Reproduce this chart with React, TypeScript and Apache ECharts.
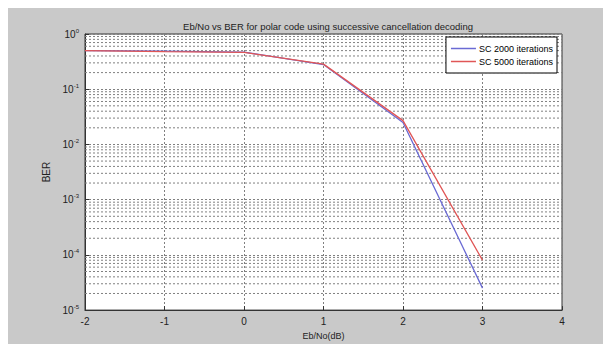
import React, { useEffect, useRef } from 'react';
import * as echarts from 'echarts';

const ebNo = [-2, -1, 0, 1, 2, 3];
const ber2000 = [0.5, 0.49, 0.47, 0.28, 0.025, 2.5e-5];
const ber5000 = [0.5, 0.48, 0.465, 0.285, 0.027, 8e-5];
const decades = [1e-5, 1e-4, 1e-3, 1e-2, 1e-1];
const minorMultipliers = [2, 3, 4, 5, 6, 7, 8, 9];
const seriesNames = ['SC 2000 iterations', 'SC 5000 iterations'];
const titleText = 'Eb/No vs BER for polar code using successive cancellation decoding';

const FONT = "'Liberation Sans Narrow', 'Liberation Sans', Arial, sans-serif";
const GRID_COLOR = '#808080';

export default function App() {
  const ref = useRef<HTMLDivElement>(null);
  useEffect(() => {
    if (!ref.current) return;
    const chart = echarts.init(ref.current, null, { renderer: 'svg' });
    const minorValues = decades.flatMap((d) => minorMultipliers.map((m) => m * d));
    chart.setOption({
      animation: false,
      backgroundColor: '#fff',
      graphic: [
        { type: 'rect', z: -10, silent: true, shape: { x: 8, y: 8, width: 595, height: 336 }, style: { fill: '#c9c9c9' } },
      ],
      title: {
        text: titleText,
        left: 323,
        textAlign: 'center',
        top: 16,
        textStyle: { fontSize: 9.5, fontWeight: 'normal', color: '#222', fontFamily: FONT },
      },
      legend: {
        orient: 'vertical',
        right: 46,
        top: 37,
        backgroundColor: '#fff',
        borderColor: '#000',
        borderWidth: 1,
        borderRadius: 0,
        padding: [7, 4, 7, 5],
        itemGap: 4,
        itemWidth: 25,
        itemHeight: 1.5,
        icon: 'rect',
        textStyle: { fontSize: 9, color: '#000', fontFamily: FONT, padding: [0, 0, 0, -2] },
        data: seriesNames,
      },
      grid: {
        left: 85,
        right: 41,
        top: 34,
        bottom: 32,
        show: true,
        backgroundColor: '#fff',
        borderColor: '#333',
        borderWidth: 1,
      },
      xAxis: {
        type: 'value',
        min: -2,
        max: 4,
        interval: 1,
        name: 'Eb/No(dB)',
        nameLocation: 'middle',
        nameGap: 20,
        nameTextStyle: { fontSize: 9, color: '#222', fontFamily: FONT },
        axisLine: { show: true, onZero: false, lineStyle: { color: '#333' } },
        axisTick: { show: true, inside: true, length: 4, lineStyle: { color: '#333' } },
        axisLabel: { fontSize: 10, color: '#222', margin: 6, fontFamily: FONT },
        splitLine: { show: true, lineStyle: { color: GRID_COLOR, type: [2, 2], width: 1 } },
      },
      yAxis: {
        type: 'log',
        logBase: 10,
        min: 1e-5,
        max: 1,
        interval: 1,
        name: 'BER',
        nameLocation: 'middle',
        nameGap: 25,
        nameTextStyle: { fontSize: 10, color: '#222', fontFamily: FONT },
        axisLine: { show: true, onZero: false, lineStyle: { color: '#333' } },
        axisTick: { show: true, inside: true, length: 4, lineStyle: { color: '#333' } },
        axisLabel: {
          margin: 6,
          formatter: (v: number) => `{b|10}{s|${Math.round(Math.log10(v))}}`,
          rich: {
            b: { fontSize: 10, color: '#222', fontFamily: FONT },
            s: { fontSize: 6, color: '#222', fontFamily: FONT, padding: [0, 0, 7, 0] },
          },
        },
        splitLine: { show: true, lineStyle: { color: GRID_COLOR, type: [2, 2], width: 1 } },
      },
      series: [
        {
          name: 'minor grid',
          type: 'custom',
          silent: true,
          z: 1,
          clip: true,
          data: minorValues.map((v) => [-2, v]),
          encode: { x: 0, y: 1 },
          renderItem: (params: any, api: any) => {
            const cs = params.coordSys;
            const p = api.coord([api.value(0), api.value(1)]);
            return {
              type: 'line',
              shape: { x1: cs.x, y1: p[1], x2: cs.x + cs.width, y2: p[1] },
              style: { stroke: GRID_COLOR, lineWidth: 1, lineDash: [2, 2] },
            };
          },
        },
        {
          name: seriesNames[0],
          type: 'line',
          symbol: 'none',
          z: 3,
          data: ebNo.map((x, i) => [x, ber2000[i]]),
          lineStyle: { color: '#6a6ad4', width: 1.3 },
          itemStyle: { color: '#6a6ad4' },
        },
        {
          name: seriesNames[1],
          type: 'line',
          symbol: 'none',
          z: 4,
          data: ebNo.map((x, i) => [x, ber5000[i]]),
          lineStyle: { color: '#e05656', width: 1.3 },
          itemStyle: { color: '#e05656' },
        },
      ],
    });
    return () => chart.dispose();
  }, []);
  return (
    <div
      ref={ref}
      style={{ position: 'fixed', left: 0, top: 0, width: 603, height: 345 }}
    />
  );
}
